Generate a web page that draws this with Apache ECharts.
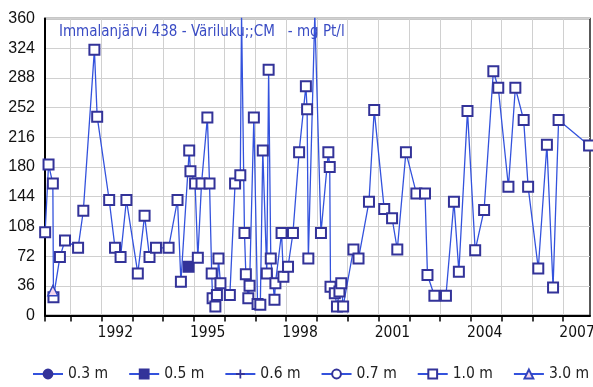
<!DOCTYPE html>
<html>
<head>
<meta charset="utf-8">
<script src="https://cdn.jsdelivr.net/npm/echarts@6/dist/echarts.min.js"></script>
<style>
  html, body { margin: 0; padding: 0; background: #fff; }
  #chart { width: 593px; height: 387px; }
</style>
</head>
<body>
<div id="chart"></div>
<script>
// sampling dates as decimal years, values in mg Pt/l
const years10 = [1990.17, 1990.28, 1990.42, 1990.44, 1990.65, 1990.815, 1991.24, 1991.41, 1991.77, 1991.86,
  1992.25, 1992.44, 1992.62, 1992.81, 1993.18, 1993.40, 1993.56, 1993.77, 1994.18, 1994.47,
  1994.58, 1994.85, 1994.89, 1995.04, 1995.13, 1995.25, 1995.44, 1995.51, 1995.58, 1995.61,
  1995.70, 1995.75, 1995.80, 1995.865, 1996.17, 1996.34, 1996.51, 1996.55, 1996.645, 1996.69,
  1996.77, 1996.81, 1996.95, 1997.07, 1997.16, 1997.24, 1997.37, 1997.43, 1997.50, 1997.62,
  1997.65, 1997.85, 1997.91, 1998.06, 1998.22, 1998.42, 1998.64, 1998.68, 1998.72, 1998.93,
  1999.13, 1999.37, 1999.415, 1999.44, 1999.58, 1999.65, 1999.73, 1999.79, 1999.85, 2000.185,
  2000.35, 2000.69, 2000.86, 2001.185, 2001.44, 2001.61, 2001.89, 2002.23, 2002.51, 2002.59,
  2002.815, 2003.19, 2003.45, 2003.61, 2003.89, 2004.14, 2004.43, 2004.73, 2004.89, 2005.22,
  2005.445, 2005.715, 2005.86, 2006.19, 2006.47, 2006.67, 2006.85, 2007.84]
const values10 = [101, 183, 160, 22, 71, 91, 82, 127, 322, 241,
  140, 82, 71, 140, 51, 121, 71, 82, 82, 140,
  41, 200, 175, 160, 70, 160, 240, 160, 51, 21,
  11, 25, 69, 39, 25, 160, 170, 365, 100, 50,
  21, 36, 240, 14, 13, 200, 51, 298, 69, 19,
  39, 100, 47, 59, 100, 198, 278, 250, 69, 365,
  100, 198, 180, 35, 27, 11, 29, 39, 11, 80,
  69, 138, 249, 129, 118, 80, 198, 148, 148, 49,
  24, 24, 138, 53, 248, 79, 128, 296, 276, 156,
  276, 237, 156, 57, 207, 34, 237, 206]

const years05 = [1994.83]
const values05 = [59]
const years30 = [1990.42]
const values30 = [30]

const yTicks = [0, 36, 72, 108, 144, 180, 216, 252, 288, 324, 360]
const yearTicks = [1991, 1992, 1993, 1994, 1995, 1996, 1997, 1998, 1999, 2000,
  2001, 2002, 2003, 2004, 2005, 2006, 2007]
const yearLabels = [1992, 1995, 1998, 2001, 2004, 2007]

const X_MIN = 1990.165
const X_MAX = 2007.87

const LINE = '#3352dd'
const NAVY = '#333399'
const NARROW = "'DejaVu Sans Condensed', 'Liberation Sans Narrow', sans-serif"

const pairs = (xs, ys) => xs.map((x, i) => [x, ys[i]])

function depthSeries(name, symbol, data, extra) {
  return Object.assign({
    name,
    type: 'line',
    data,
    symbol,
    symbolSize: 10,
    showAllSymbol: true,
    clip: true,
    animation: false,
    lineStyle: { color: LINE, width: 1.3 },
    itemStyle: { color: NAVY, borderColor: NAVY, borderWidth: 2 },
    emphasis: { disabled: true },
  }, extra || {})
}

const chart = echarts.init(document.getElementById('chart'), null, { renderer: 'canvas' })

chart.setOption({
  animation: false,
  backgroundColor: '#fff',
  title: {
    text: 'Immalanjärvi 438 - Väriluku;;CM   - mg Pt/l',
    left: 59,
    top: 25,
    padding: 0,
    textStyle: { color: '#3a4cc4', fontSize: 15, fontWeight: 'normal', fontFamily: NARROW },
  },
  grid: {
    left: 45,
    top: 18.5,
    right: 3,
    bottom: 71.5,
    outerBoundsMode: 'none',
    containLabel: false,
    show: true,
    borderColor: '#222',
    borderWidth: 1.5,
    backgroundColor: 'transparent',
  },
  legend: {
    left: 32,
    top: 366,
    width: 600,
    itemWidth: 30,
    itemHeight: 11,
    itemGap: 20,
    padding: 0,
    textStyle: { color: '#222', fontSize: 15.5, fontFamily: NARROW },
    data: ['0.3 m', '0.5 m', '0.6 m', '0.7 m', '1.0 m', '3.0 m'],
  },
  xAxis: {
    type: 'value',
    min: X_MIN,
    max: X_MAX,
    axisLine: { show: true, lineStyle: { color: '#000', width: 2 } },
    axisTick: {
      show: true,
      length: 6,
      customValues: [X_MIN].concat(yearTicks),
      lineStyle: { color: '#000', width: 1.5 },
    },
    axisLabel: {
      customValues: yearLabels.map(y => y + 0.45),
      formatter: v => String(Math.floor(v)),
      color: '#111',
      fontSize: 15.5,
      fontFamily: NARROW,
      margin: 9,
      showMinLabel: true,
      showMaxLabel: true,
      hideOverlap: false,
    },
    splitLine: { show: true, lineStyle: { color: '#d0d0d0', width: 1 } },
  },
  yAxis: {
    type: 'value',
    min: 0,
    max: 360,
    interval: 36,
    axisLine: { show: true, lineStyle: { color: '#000', width: 2 } },
    axisTick: { show: false },
    axisLabel: {
      color: '#111',
      fontSize: 16,
      fontFamily: "'Liberation Sans', Arial, sans-serif",
      margin: 10,
      formatter: v => (yTicks.includes(v) ? String(v) : ''),
    },
    splitLine: { show: true, lineStyle: { color: '#d0d0d0', width: 1 } },
  },
  series: [
    depthSeries('0.3 m', 'circle', []),
    depthSeries('0.5 m', 'rect', pairs(years05, values05)),
    depthSeries('0.6 m', 'path://M4,0h2v4h4v2h-4v4h-2v-4h-4v-2h4z', [], {
      itemStyle: { color: NAVY, borderWidth: 0 },
    }),
    depthSeries('0.7 m', 'emptyCircle', [], {
      itemStyle: { color: NAVY, borderColor: NAVY, borderWidth: 2.5 },
    }),
    depthSeries('1.0 m', 'rect', pairs(years10, values10), {
      itemStyle: { color: '#fff', borderColor: NAVY, borderWidth: 2 },
    }),
    depthSeries('3.0 m', 'triangle', pairs(years30, values30), {
      itemStyle: { color: '#f4d6ee', borderColor: '#3344bb', borderWidth: 1.5 },
    }),
  ],
})
</script>
</body>
</html>
